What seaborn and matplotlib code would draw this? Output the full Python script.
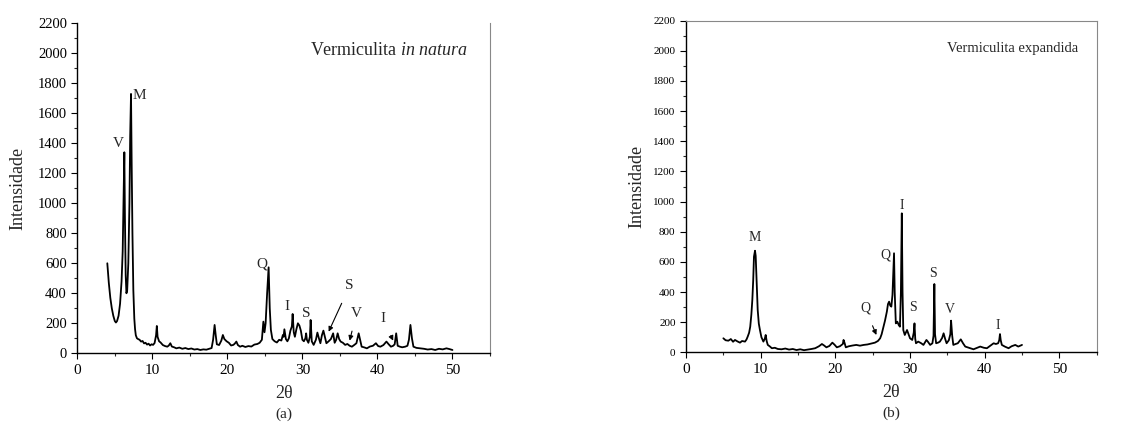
import numpy as np
import pandas as pd
import matplotlib
matplotlib.use("Agg")
import matplotlib.pyplot as plt
import seaborn as sns
from matplotlib.ticker import MultipleLocator

# -- vermiculita in natura (a)
theta_a = [4.0, 4.2, 4.4, 4.6, 4.8, 5.0, 5.15, 5.3, 5.5, 5.7, 5.9, 6.05, 6.15, 6.27, 6.35, 6.45, 6.55, 6.65, 6.8, 6.95,
           7.05, 7.16, 7.25, 7.35, 7.47, 7.6, 7.7, 7.8, 7.95, 8.1,
           8.3, 8.5, 8.7, 8.9, 9.1, 9.3, 9.5, 9.7, 9.9, 10.1, 10.3, 10.5, 10.6, 10.7, 10.9, 11.1, 11.4, 11.7, 12.0, 12.2,
           12.4, 12.6, 12.9, 13.2, 13.6, 14.0, 14.4, 14.8, 15.2, 15.6, 16.0, 16.4, 16.8, 17.2, 17.6, 17.9,
           18.1, 18.3, 18.45, 18.6, 18.9, 19.2, 19.4, 19.6, 19.9, 20.2, 20.5, 20.8, 21.0, 21.2, 21.4, 21.7, 22.0, 22.4,
           22.8, 23.2, 23.6, 24.0, 24.3, 24.6, 24.8, 24.95,
           25.1, 25.3, 25.5, 25.65, 25.8, 26.0, 26.3, 26.6, 26.9, 27.2, 27.4, 27.5, 27.6, 27.8, 28.0, 28.2, 28.4, 28.6,
           28.7, 28.85, 29.0, 29.2, 29.4, 29.6, 29.8, 30.0, 30.2, 30.4, 30.5, 30.6, 30.8, 31.0, 31.1, 31.25, 31.5, 31.8,
           32.0, 32.2, 32.4, 32.6, 32.8, 33.0, 33.2, 33.5, 33.8, 34.1, 34.3, 34.5, 34.7, 34.9, 35.1, 35.4, 35.7, 36.0,
           36.3, 36.6, 36.9, 37.2, 37.5, 37.7, 37.9, 38.2, 38.6, 39.0, 39.4, 39.8, 40.1, 40.4,
           40.8, 41.2, 41.5, 41.8, 42.1, 42.3, 42.5, 42.7, 43.0, 43.3, 43.7, 44.0, 44.2, 44.4, 44.6, 44.8, 45.2, 45.7,
           46.2, 46.7, 47.2, 47.7, 48.2, 48.7, 49.2, 49.6, 50.0]
int_a = [600, 470, 370, 300, 250, 215, 205, 215, 250, 330, 480, 680, 1000, 1340, 900, 520, 400, 420, 600, 1000,
         1450, 1729, 1250, 800, 420, 230, 160, 120, 100, 95,
         90, 78, 82, 66, 70, 58, 64, 52, 60, 56, 68, 120, 182, 110, 80, 72, 55, 48, 44, 52,
         67, 45, 40, 33, 38, 30, 35, 28, 32, 25, 28, 22, 26, 24, 30, 35,
         90, 189, 120, 60, 55, 85, 122, 95, 80, 70, 52, 56, 65, 78, 55, 44, 50, 42,
         48, 45, 58, 62, 70, 90, 211, 140,
         200, 400, 573, 300, 156, 95, 80, 72, 90, 85, 122, 110, 160, 95, 80, 100, 150, 180,
         262, 140, 110, 160, 200, 185, 150, 90, 80, 100, 133, 90, 70, 110, 222, 80, 56, 90,
         138, 100, 67, 120, 151, 110, 67, 80, 95, 133, 70, 90, 133, 95, 78, 70, 56, 62,
         50, 44, 55, 67, 133, 90, 44, 40, 33, 45, 50, 67, 48, 44,
         55, 78, 60, 44, 50, 60, 133, 50, 44, 40, 44, 50, 90, 189, 100, 44, 36, 33,
         30, 25, 28, 22, 30, 26, 33, 28, 22]

# -- vermiculita expandida (b)
theta_b = [5.0, 5.3, 5.67, 6.0, 6.3, 6.56, 6.9, 7.23, 7.5, 7.9, 8.1, 8.26, 8.45, 8.6, 8.75, 8.88, 9.0, 9.1, 9.24, 9.33,
           9.42, 9.6, 9.75, 9.9, 10.1, 10.36, 10.55, 10.67, 10.8, 10.95, 11.2, 11.5, 11.9, 12.3, 12.8,
           13.3, 13.8, 14.3, 14.8, 15.3, 15.8, 16.3, 16.8, 17.3, 17.8, 18.2, 18.5, 18.8, 19.2, 19.6, 19.9, 20.2, 20.6,
           21.0, 21.1, 21.25, 21.4, 21.8, 22.3, 22.8, 23.3, 23.8, 24.3, 24.8, 25.3, 25.7, 26.0,
           26.2, 26.4, 26.65, 26.9, 27.05, 27.2, 27.35, 27.5, 27.65, 27.78, 27.86, 27.95, 28.1, 28.3, 28.5, 28.65,
           28.78, 28.9, 29.0, 29.1, 29.3, 29.6, 29.8, 30.0, 30.3, 30.5, 30.6, 30.7, 30.8,
           31.1, 31.5, 31.8, 32.2, 32.4, 32.7, 33.0, 33.15, 33.26, 33.35, 33.5, 33.8, 34.0, 34.3, 34.5, 34.7, 34.9,
           35.2, 35.4, 35.5, 35.65, 35.8, 36.1, 36.4, 36.8, 37.1, 37.4, 37.9, 38.5, 39.0, 39.4, 39.9, 40.3, 40.8,
           41.2, 41.5, 41.8, 41.95, 42.05, 42.15, 42.3, 42.7, 43.2, 43.6, 44.1, 44.5, 45.0]
int_b = [93, 80, 77, 88, 70, 82, 72, 64, 75, 71, 85, 104, 130, 170, 250, 347, 480, 635, 674, 640,
         524, 281, 190, 148, 100, 71, 90, 115, 75, 49, 40, 27, 30, 22, 20,
         25, 18, 22, 15, 20, 14, 18, 22, 27, 40, 55, 45, 33, 42, 64, 50, 33, 40,
         55, 82, 60, 33, 40, 45, 49, 44, 49, 52, 58, 64, 75, 93,
         120, 159, 210, 270, 320, 336, 310, 303, 380, 560, 657, 400, 192, 203, 180, 170,
         400, 922, 400, 148, 115, 148, 120, 93, 82, 130, 192, 90, 60,
         71, 60, 49, 82, 70, 49, 60, 110, 453, 120, 60, 65, 71, 95, 126, 90, 60,
         80, 120, 210, 110, 49, 55, 60, 86, 60, 38, 30, 20, 30, 38, 30, 27, 45,
         60, 55, 60, 80, 121, 80, 49, 38, 27, 40, 49, 38, 49]

# -- rótulos dos picos: (texto, x, y)
labels_a = [("V", 5.5, 1400), ("M", 8.3, 1720), ("Q", 24.6, 596), ("I", 27.9, 311), ("S", 30.5, 267)]
arrows_a = [("S", 36.3, 449, 33.5, 144), ("V", 37.2, 267, 36.3, 84), ("I", 40.7, 233, 42.1, 84)]
labels_b = [("M", 9.24, 763), ("Q", 26.7, 646), ("I", 28.9, 977), ("S", 30.4, 298),
            ("S", 33.1, 520), ("V", 35.3, 285), ("I", 41.7, 181)]
arrows_b = [("Q", 24.0, 292, 25.5, 115)]

df_a = pd.DataFrame({"theta": theta_a, "intensidade": int_a})
df_b = pd.DataFrame({"theta": theta_b, "intensidade": int_b})

sns.set_style("ticks")
plt.rcParams['font.family'] = ['Liberation Serif', 'DejaVu Serif']
plt.rcParams['mathtext.fontset'] = 'custom'
plt.rcParams['mathtext.rm'] = 'Liberation Serif'
plt.rcParams['mathtext.it'] = 'Liberation Serif:italic'

fig = plt.figure(figsize=(11.3, 4.26), dpi=100)
ax1 = fig.add_axes([0.0684, 0.1707, 0.3652, 0.7746])
ax2 = fig.add_axes([0.6071, 0.1730, 0.3634, 0.7784])


def style_axis(ax, tick_size, lab_x):
    ax.set_xlim(0, 55)
    ax.set_ylim(0, 2200)
    ax.xaxis.set_major_locator(MultipleLocator(10))
    ax.xaxis.set_minor_locator(MultipleLocator(5))
    ax.yaxis.set_major_locator(MultipleLocator(200))
    ax.yaxis.set_minor_locator(MultipleLocator(100))
    ax.tick_params(which='major', direction='out', length=4, width=0.8, labelsize=tick_size, colors='black')
    ax.tick_params(which='minor', direction='out', length=2, width=0.8)
    ax.tick_params(axis='x', labelsize=11)
    for s in ['left', 'bottom']:
        ax.spines[s].set_color('black')
        ax.spines[s].set_linewidth(1.0)
    ax.set_xlabel("2θ", fontsize=13)
    ax.set_ylabel("Intensidade", fontsize=13)
    ax.xaxis.set_label_coords(0.5, -0.095)
    ax.yaxis.set_label_coords(lab_x, 0.5)


sns.lineplot(data=df_a, x="theta", y="intensidade", ax=ax1, color='black', lw=1.3,
             estimator=None, sort=False)
sns.lineplot(data=df_b, x="theta", y="intensidade", ax=ax2, color='black', lw=1.3,
             estimator=None, sort=False)

style_axis(ax1, 10.5, -0.124)
style_axis(ax2, 8, -0.10)

ax1.spines['top'].set_visible(False)
ax1.spines['right'].set_color('#888888')
ax2.spines['top'].set_color('#888888')
ax2.spines['right'].set_color('#888888')

ax1.text(52.1, 2020, r"Vermiculita $\mathit{in\ natura}$", ha='right', va='center', fontsize=13)
ax2.text(52.5, 2016, "Vermiculita expandida", ha='right', va='center', fontsize=10.5)

for t, x, y in labels_a:
    ax1.text(x, y, t, ha='center', va='center', fontsize=11)
for t, x, y, xa, ya in arrows_a:
    ax1.annotate(t, xy=(xa, ya), xytext=(x, y), ha='center', va='center', fontsize=11,
                 arrowprops=dict(arrowstyle='-|>', color='black', lw=0.8, shrinkA=6, shrinkB=0,
                                 mutation_scale=7))
for t, x, y in labels_b:
    ax2.text(x, y, t, ha='center', va='center', fontsize=10)
for t, x, y, xa, ya in arrows_b:
    ax2.annotate(t, xy=(xa, ya), xytext=(x, y), ha='center', va='center', fontsize=10,
                 arrowprops=dict(arrowstyle='-|>', color='black', lw=0.8, shrinkA=6, shrinkB=0,
                                 mutation_scale=7))

ax1.text(0.5, -0.185, "(a)", transform=ax1.transAxes, ha='center', va='center', fontsize=11)
ax2.text(0.5, -0.185, "(b)", transform=ax2.transAxes, ha='center', va='center', fontsize=11)

fig.savefig("out.png", dpi=100)
